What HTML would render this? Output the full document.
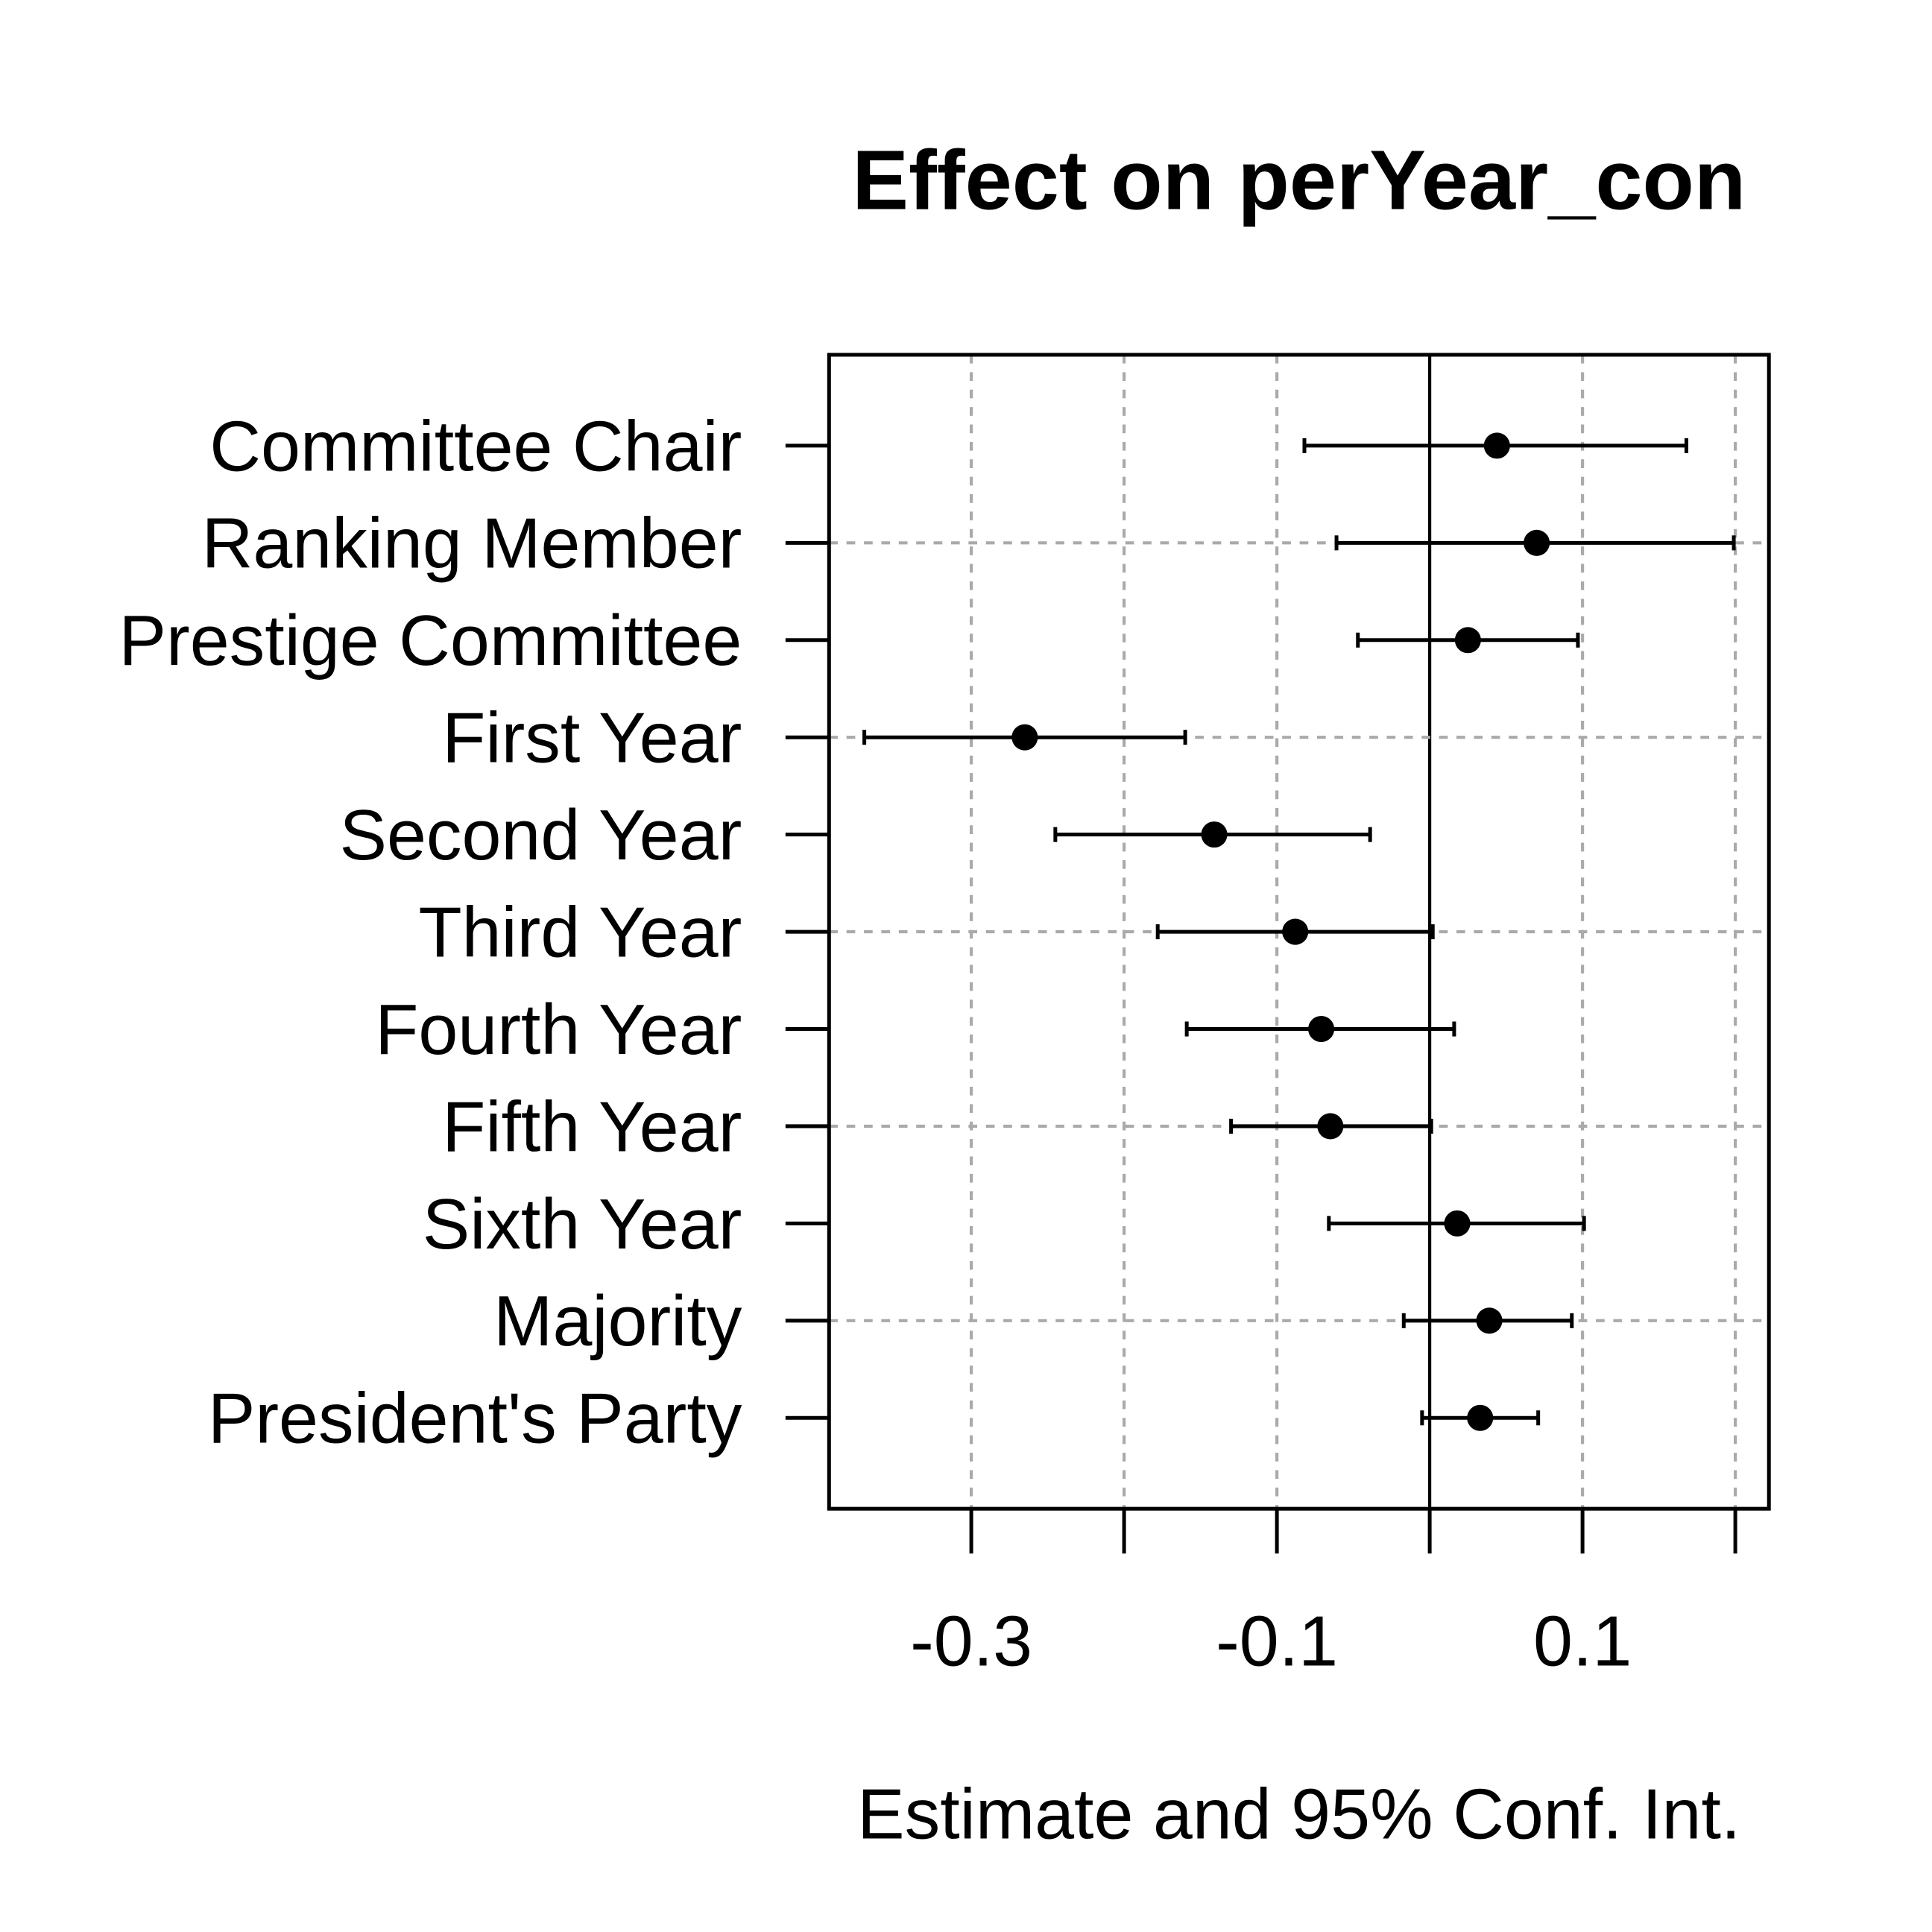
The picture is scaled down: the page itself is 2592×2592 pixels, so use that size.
<!DOCTYPE html>
<html><head><meta charset="utf-8"><style>
html,body{margin:0;padding:0;background:#fff;}
svg{display:block;font-family:"Liberation Sans",Arial,sans-serif;}
</style></head><body>
<svg id="chart" width="2592" height="2592" viewBox="0 0 1552 1552" xmlns="http://www.w3.org/2000/svg">
<text x="1043.5" y="168" font-size="68" font-weight="bold" text-anchor="middle">Effect on perYear_con</text>
<g id="grid"></g>
<g id="marks"></g>
<rect x="666" y="285" width="755" height="927" fill="none" stroke="#000" stroke-width="3"/>
<g id="axes"></g>
<text x="1043.5" y="1477" font-size="57" text-anchor="middle">Estimate and 95% Conf. Int.</text>
</svg>
<script>
const categories=["Committee Chair","Ranking Member","Prestige Committee","First Year","Second Year","Third Year","Fourth Year","Fifth Year","Sixth Year","Majority","President's Party"];
const estimates=[0.044,0.070,0.025,-0.265,-0.141,-0.088,-0.071,-0.065,0.018,0.039,0.033];
const lowerCI=[-0.082,-0.061,-0.047,-0.370,-0.245,-0.178,-0.159,-0.130,-0.066,-0.017,-0.005];
const upperCI=[0.168,0.199,0.097,-0.160,-0.039,0.002,0.016,0.001,0.101,0.093,0.071];
const xTicks=[-0.3,-0.2,-0.1,0,0.1,0.2];
const xTickLabels=["-0.3","","-0.1","","0.1",""];

const NS="http://www.w3.org/2000/svg";
const X=v=>1148.5+v*1227.5;
const Y=i=>358+i*78.1;
function mk(parent,tag,attrs){const e=document.createElementNS(NS,tag);for(const k in attrs)e.setAttribute(k,attrs[k]);document.getElementById(parent).appendChild(e);return e;}
xTicks.forEach((t,i)=>{
  let g=mk('grid','line',{x1:X(t),x2:X(t),y1:285,y2:1212,stroke:t===0?'#000':'#aaa','stroke-width':t===0?2.5:2.5,'stroke-dasharray':t===0?'none':'7,7'});
  
  
  let tk=mk('axes','line',{x1:X(t),x2:X(t),y1:1212,y2:1248,stroke:'#000','stroke-width':3});
  
  
  if(xTickLabels[i]){
    let tl=mk('axes','text',{x:X(t),y:1338,'font-size':57,'text-anchor':'middle'});
    tl.textContent=xTickLabels[i];
    
    
  }
});
categories.forEach((c,i)=>{
  const y=Y(i);
  if(i%2===1){
    let h=mk('grid','line',{x1:666,x2:1421,y1:y,y2:y,stroke:'#aaa','stroke-width':2.5,'stroke-dasharray':'7,7'});
    
    
  }
  let tk=mk('axes','line',{x1:631,x2:666,y1:y,y2:y,stroke:'#000','stroke-width':3});
  
  
  let lb=mk('axes','text',{x:596,y:y+20,'font-size':57,'text-anchor':'end'});
  lb.textContent=c;
  
  
  let ci=mk('marks','line',{x1:X(lowerCI[i]),x2:X(upperCI[i]),y1:y,y2:y,stroke:'#000','stroke-width':3});
  
  
  [lowerCI[i],upperCI[i]].forEach(v=>{
    let cap=mk('marks','line',{x1:X(v),x2:X(v),y1:y-6,y2:y+6,stroke:'#000','stroke-width':3});
    
    
  });
  let p=mk('marks','circle',{cx:X(estimates[i]),cy:y,r:10.5,fill:'#000'});
  
  
});
</script>
</body></html>
